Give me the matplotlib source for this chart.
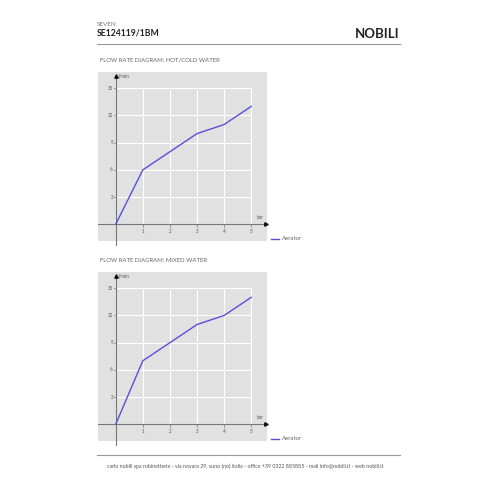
import matplotlib
matplotlib.use("Agg")
import matplotlib.pyplot as plt

pressure_bar = [0, 1, 2, 3, 4, 5]
flow_hot_cold = [0, 6, 8, 10, 11, 13]
flow_mixed = [0, 7, 9, 11, 12, 14]
x_ticks = [1, 2, 3, 4, 5]
y_ticks = [3, 6, 9, 12, 15]
titles = ["FLOW RATE DIAGRAM: HOT/COLD WATER", "FLOW RATE DIAGRAM: MIXED WATER"]
series_label = "Aerator"

W = H = 500
fig = plt.figure(figsize=(5, 5), dpi=100)
fig.patch.set_facecolor("white")
FONT = "Lato"
LINE_C = "#5a4fd8"
PANEL_C = "#e1e1e1"
TXT_C = "#555555"

def fx(px):
    return px / W

def fy(py):
    return 1 - py / H

# header
fig.text(fx(97), fy(25), "SEVEN", fontsize=4.5, color="#777777", family=FONT, va="center")
fig.text(fx(96.5), fy(33.5), "SE124119/1BM", fontsize=6.2, color="#222222", family=FONT,
         fontweight="bold", va="center")
fig.text(fx(399), fy(33.5), "NOBILI", fontsize=9.5, color="#222222", family=FONT,
         fontweight="bold", va="center", ha="right")
fig.add_artist(plt.Line2D([fx(97), fx(400)], [fy(43.5), fy(43.5)], color="#999999", lw=0.8))
fig.add_artist(plt.Line2D([fx(97), fx(400)], [fy(454.5), fy(454.5)], color="#999999", lw=0.8))
fig.text(fx(245), fy(466), "carlo nobili spa rubinetterie - via novara 29, suno (no) italia - office +39 0322 885885 - mail info@nobili.it - web nobili.it",
         fontsize=3.8, color="#555555", family=FONT, ha="center", va="center")

def draw_chart(off, flows, title):
    fig.text(fx(100), fy(60 + off), title, fontsize=4.3, color="#666666", family=FONT, va="center")
    left, right, top, bottom = 98, 266.5, 72 + off, 240.5 + off
    ox, oy = 115.7, 224.3 + off
    ux, uy = 27.1, 9.07
    ax = fig.add_axes([fx(left), fy(bottom), (right - left) / W, (bottom - top) / H])
    ax.set_facecolor(PANEL_C)
    ax.set_xlim(-(ox - left) / ux, (right - ox) / ux)
    ax.set_ylim(-(bottom - oy) / uy, (oy - top) / uy)
    for s in ax.spines.values():
        s.set_visible(False)
    ax.set_xticks([])
    ax.set_yticks([])
    # grid
    for xv in x_ticks:
        ax.plot([xv, xv], [0, y_ticks[-1]], color="white", lw=0.8, zorder=1)
    for yv in y_ticks:
        ax.plot([0, x_ticks[-1]], [yv, yv], color="white", lw=0.8, zorder=1)
    # axes lines
    x0, x1 = ax.get_xlim()
    y0, y1 = ax.get_ylim()
    ax.plot([x0, 5.55], [0, 0], color="#777777", lw=0.8, zorder=2, clip_on=False)
    ax.plot([0, 0], [y0 - 0.5, 16.3], color="#777777", lw=0.8, zorder=2, clip_on=False)
    ax.plot([5.55], [0], marker=">", ms=2.5, color="#111111", zorder=3, clip_on=False)
    ax.plot([0], [16.3], marker="^", ms=2.5, color="#111111", zorder=3, clip_on=False)
    for xv in x_ticks:
        ax.plot([xv, xv], [0, -0.35], color="#777777", lw=0.5, zorder=2)
        ax.text(xv, -0.5, str(xv), fontsize=3.3, color=TXT_C, family=FONT, ha="center", va="top")
    for yv in y_ticks:
        ax.plot([0, -0.06], [yv, yv], color="#777777", lw=0.5, zorder=2)
        ax.text(-0.1, yv, str(yv), fontsize=3.3, color=TXT_C, family=FONT, ha="right", va="center")
    ax.text(5.33, 0.5, "bar", fontsize=3.3, color=TXT_C, family=FONT, ha="center", va="bottom")
    ax.text(0.12, 16.3, "l/min", fontsize=3.3, color=TXT_C, family=FONT, ha="left", va="center")
    ax.plot(pressure_bar, flows, color=LINE_C, lw=1.0, zorder=4)
    # legend
    fig.add_artist(plt.Line2D([fx(271), fx(279)], [fy(239 + off), fy(239 + off)], color=LINE_C, lw=1.0))
    fig.text(fx(282), fy(239 + off), series_label, fontsize=4.3, color="#666666", family=FONT, va="center")

draw_chart(0, flow_hot_cold, titles[0])
draw_chart(200, flow_mixed, titles[1])

fig.savefig("out.png", dpi=100, facecolor="white")
